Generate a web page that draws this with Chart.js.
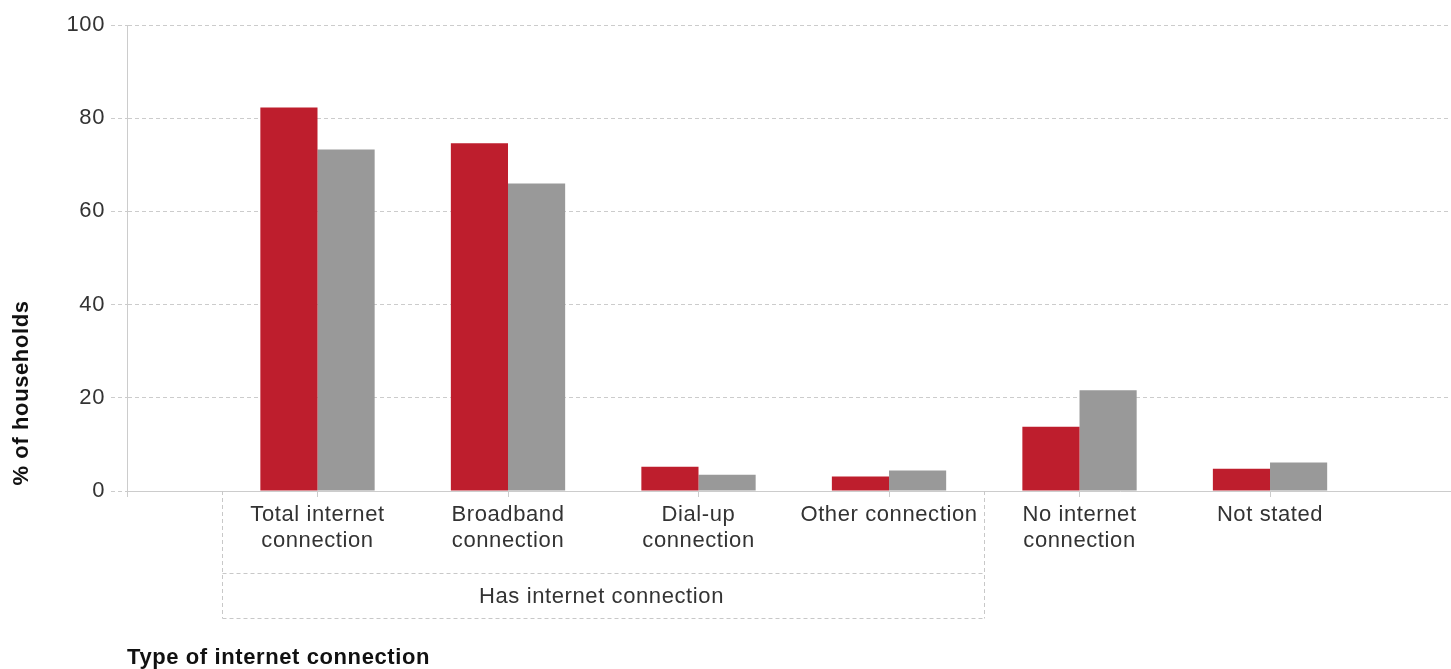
<!DOCTYPE html>
<html>
<head>
<meta charset="utf-8">
<script src="https://cdn.jsdelivr.net/npm/chart.js@4"></script>
<style>
    html, body { margin: 0; padding: 0; background: #fff; }
    #wrap { width: 1451px; height: 669px; }
</style>
</head>
<body>
<div id="wrap"><canvas id="internetChart" width="1451" height="669"></canvas></div>
<script>
// categories & values
const categories = [
    ["Total internet", "connection"],
    ["Broadband", "connection"],
    ["Dial-up", "connection"],
    ["Other connection"],
    ["No internet", "connection"],
    ["Not stated"]
];
const seriesRed = [82.3, 74.6, 5.2, 3.1, 13.8, 4.8];
const seriesGrey = [73.3, 66.0, 3.5, 4.4, 21.6, 6.1];
const yTicks = [0, 20, 40, 60, 80, 100];

// grouping box under the axis
const groupLabels = ["Has internet connection"];
const groupFrom = [0];
const groupTo = [3];

const FONT = "'Liberation Sans', Arial, sans-serif";

// draws the group box + axis titles
const extrasPlugin = {
    id: 'extras',
    beforeDraw(chart) {
        // the reference text is a bit wider-spaced
        chart.ctx.letterSpacing = '0.6px';
    },
    afterDraw(chart) {
        const ctx = chart.ctx;
        const x = chart.scales.x;
        const area = chart.chartArea;
        ctx.save();
        ctx.strokeStyle = '#c8c8c8';
        ctx.lineWidth = 1;
        for (let i = 0; i < groupLabels.length; i++) {
            let left = Math.round(x.getPixelForValue(groupFrom[i] - 0.5)) + 0.5;
            let right = Math.round(x.getPixelForValue(groupTo[i] + 0.5)) + 0.5;
            let top = area.bottom;
            let mid = 573.5, bottom = 618.5;
            ctx.setLineDash([4, 3]);
            ctx.beginPath();
            ctx.moveTo(left, top); ctx.lineTo(left, bottom);
            ctx.moveTo(right, top); ctx.lineTo(right, bottom);
            ctx.moveTo(left, mid); ctx.lineTo(right, mid);
            ctx.moveTo(left, bottom); ctx.lineTo(right, bottom);
            ctx.stroke();
            ctx.setLineDash([]);
            ctx.fillStyle = '#333';
            ctx.font = "22px " + FONT;
            ctx.textAlign = 'center';
            ctx.textBaseline = 'middle';
            ctx.fillText(groupLabels[i], (left + right) / 2 - 2, 597);
        }
        // x title
        ctx.fillStyle = '#111';
        ctx.font = "bold 22px " + FONT;
        ctx.textAlign = 'left';
        ctx.textBaseline = 'middle';
        ctx.fillText("Type of internet connection", 127, 658);
        // y title
        ctx.translate(22, 393);
        ctx.rotate(-Math.PI / 2);
        ctx.textAlign = 'center';
        ctx.fillText("% of households", 0, 0);
        ctx.restore();
        ctx.letterSpacing = '0px';
    }
};

let ctx = document.getElementById('internetChart').getContext('2d');
window.internetChartInstance = new Chart(ctx, {
    type: 'bar',
    data: {
        datasets: [{
            label: 'Series 1',
            data: seriesRed.map((v, i) => ({ x: i, y: v })),
            backgroundColor: '#BE1E2D',
            borderWidth: 0
        }, {
            label: 'Series 2',
            data: seriesGrey.map((v, i) => ({ x: i, y: v })),
            backgroundColor: '#999999',
            borderWidth: 0
        }]
    },
    options: {
        responsive: false,
        animation: false,
        categoryPercentage: 0.6,
        barPercentage: 1.0,
        layout: { padding: { top: 25, right: 0, left: 0, bottom: 0 } },
        plugins: {
            legend: { display: false },
            tooltip: { enabled: false }
        },
        scales: {
            x: {
                type: 'linear',
                min: -1,
                max: 5.95,
                offset: false,
                afterFit(scale) { scale.height = 178; },
                afterBuildTicks(scale) {
                    scale.ticks = [-1, 0, 1, 2, 3, 4, 5].map(v => ({ value: v }));
                },
                ticks: {
                    autoSkip: false,
                    maxRotation: 0,
                    padding: 5,
                    color: '#333',
                    font: { family: FONT, size: 22, lineHeight: 1.18 },
                    callback: (v) => categories[v] || ''
                },
                grid: {
                    offset: false,
                    drawOnChartArea: false,
                    drawTicks: true,
                    tickLength: 6,
                    color: '#cccccc'
                },
                border: { display: true, color: '#cccccc', width: 1 }
            },
            y: {
                min: 0,
                max: 100,
                afterFit(scale) { scale.width = 127; },
                afterBuildTicks(scale) {
                    scale.ticks = yTicks.map(v => ({ value: v }));
                },
                ticks: {
                    padding: 6,
                    color: '#333',
                    font: { family: FONT, size: 22 }
                },
                grid: {
                    color: '#cccccc',
                    tickLength: 16,
                    tickBorderDash: [4, 3],
                    tickColor: '#cccccc'
                },
                border: { display: true, color: '#cccccc', width: 1, dash: [4, 3] }
            }
        }
    },
    plugins: [extrasPlugin]
});
</script>
</body>
</html>
